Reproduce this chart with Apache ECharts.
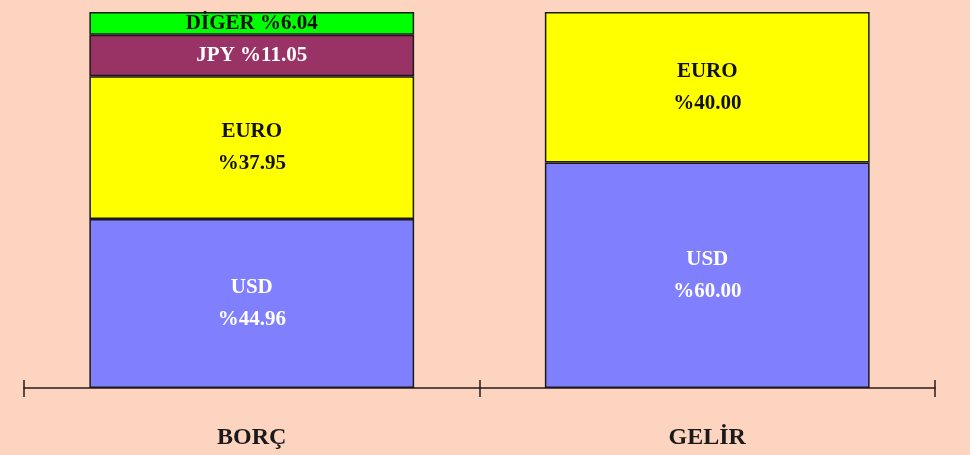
<!DOCTYPE html>
<html>
<head>
<meta charset="utf-8">
<script src="https://cdn.jsdelivr.net/npm/echarts@6/dist/echarts.min.js"></script>
<style>
html,body{margin:0;padding:0;background:#FCD4C0;}
#c{width:970px;height:455px;}
</style>
</head>
<body>
<div id="c"></div>
<script>
const categories = ['BORÇ', 'GELİR'];
const usd = [44.96, 60.00];
const euro = [37.95, 40.00];
const jpy = [11.05, null];
const diger = [6.04, null];

const FONT = '"Liberation Serif", "Times New Roman", serif';

function mk(name, data, color, textColor) {
  return {
    name: name,
    type: 'bar',
    stack: 'total',
    data: data,
    barWidth: '71.3%',
    itemStyle: { color: color, borderColor: '#1a1a1a', borderWidth: 1.5 },
    label: {
      show: true,
      position: 'inside',
      fontFamily: FONT,
      fontWeight: 'bold',
      fontSize: 21,
      lineHeight: 32,
      color: textColor,
      formatter: function (p) {
        const v = '%' + Number(p.value).toFixed(2);
        return p.value < 15 ? p.seriesName + ' ' + v : p.seriesName + '\n' + v;
      }
    },
    emphasis: { disabled: true }
  };
}

const chart = echarts.init(document.getElementById('c'));
chart.setOption({
  backgroundColor: '#FCD4C0',
  animation: false,
  grid: [
    { left: 24, right: 35, top: 12, bottom: 67 },
    { left: 24, right: 35, top: 12, bottom: 67 }
  ],
  xAxis: [
    {
      type: 'category', data: categories, gridIndex: 0,
      axisLine: { lineStyle: { color: '#2a1a1a', width: 1.5 } },
      axisTick: { show: true, length: 9, lineStyle: { color: '#2a1a1a', width: 1.5 } },
      axisLabel: { fontFamily: FONT, fontWeight: 'bold', fontSize: 24, color: '#1a1a1a', margin: 38 }
    },
    {
      type: 'category', data: categories, gridIndex: 1,
      axisLine: { show: false },
      axisTick: { show: true, inside: true, length: 8, lineStyle: { color: '#2a1a1a', width: 1.5 } },
      axisLabel: { show: false }
    }
  ],
  yAxis: [
    { type: 'value', min: 0, max: 100, show: false, gridIndex: 0 },
    { type: 'value', min: 0, max: 100, show: false, gridIndex: 1 }
  ],
  series: [
    mk('USD', usd, '#8080FF', '#FFFFFF'),
    mk('EURO', euro, '#FFFF00', '#111111'),
    mk('JPY', jpy, '#993366', '#FFFFFF'),
    mk('DİGER', diger, '#00FF00', '#111111')
  ]
});
</script>
</body>
</html>
